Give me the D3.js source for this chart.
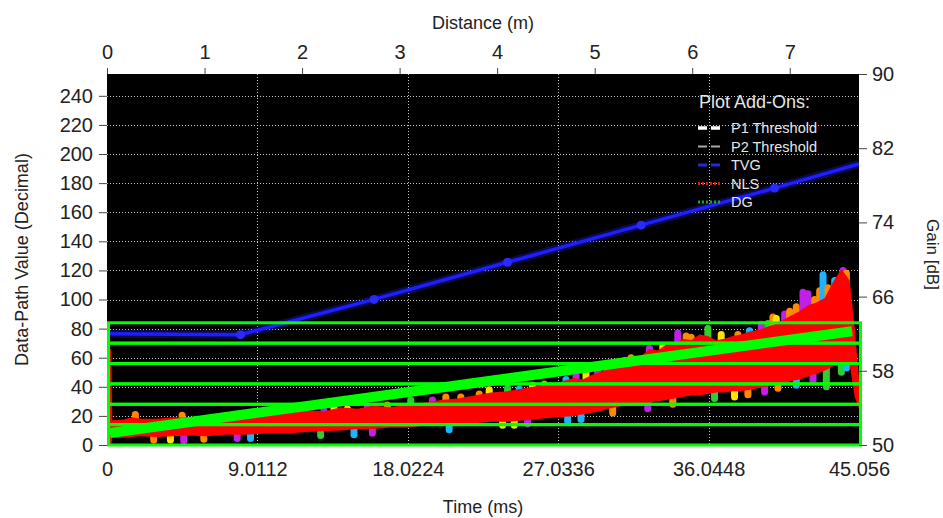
<!DOCTYPE html>
<html><head><meta charset="utf-8">
<script src="https://cdn.jsdelivr.net/npm/d3@7/dist/d3.min.js"></script>
<style>
body{margin:0;background:#fff;}
svg{display:block;font-family:"Liberation Sans",Arial,sans-serif;}
</style></head><body>
<svg id="chart" width="943" height="518"></svg>
<script>
// ---------- data ----------
const timeTicks = [0, 9.0112, 18.0224, 27.0336, 36.0448, 45.056];
const timeTickLabels = ["0", "9.0112", "18.0224", "27.0336", "36.0448", "45.056"];
const distanceTicks = [0, 1, 2, 3, 4, 5, 6, 7];
const valueTicks = [0, 20, 40, 60, 80, 100, 120, 140, 160, 180, 200, 220, 240];
const gainTicks = [50, 58, 66, 74, 82, 90];
const timeDomain = [0, 45.056];
const distanceDomain = [0, 7.71];
const valueDomain = [0, 255];
const gainDomain = [50, 90];

const legendTitle = "Plot Add-Ons:";
const legendLabels = ["P1 Threshold", "P2 Threshold", "TVG", "NLS", "DG"];

// TVG (gain, dB, right axis)
const tvgTime = [0, 8, 16, 24, 32, 40, 45.056];
const tvgGain = [62.0, 61.9, 65.7, 69.7, 73.7, 77.7, 80.3];
const tvgMarkerTime = [8, 16, 24, 32, 40];
const tvgMarkerGain = [61.9, 65.7, 69.7, 73.7, 77.7];

// DG (thick green line)
const dgTime = [0.18, 44.64];
const dgValue = [8.3, 78.2];

// threshold band edges (green rectangles)
const bandEdges = [0, 14, 28, 42, 56, 70, 84];

// NLS echo envelope (red)
const nlsTime = [0, 0.25, 0.32, 1, 1.5, 2,
  3, 4, 5, 6, 7, 8, 9, 10, 11, 12, 13, 14, 15, 16, 17, 18, 19, 20, 21, 22, 23,
  24, 25, 26, 27, 28, 28.5,
  29, 29.5, 30, 30.5, 31, 31.5, 32, 32.5, 33, 33.5, 34, 34.5, 35, 35.5, 36, 36.5,
  37, 37.5, 38, 38.5, 39, 39.5, 40, 40.5, 41, 41.5, 42, 42.5, 43, 43.5, 44, 44.5,
  44.8, 45.056];
const nlsHigh = [66, 66, 17, 17.5, 19, 18,
  18, 19, 18.5, 19.5, 20, 21, 20, 22, 23, 24, 23, 26, 25, 27, 26, 28, 29, 31, 32, 34, 36,
  37, 39, 41, 43, 46, 45,
  48, 50, 52, 55, 56, 59, 61, 66, 65, 69, 70, 73, 72, 76, 75, 72,
  73, 75, 76, 78, 79, 81, 83, 86, 89, 92, 96, 98, 101, 112, 121, 113,
  80, 45];
const nlsLow = [0, 0, 5, 5, 5.5, 6,
  5.5, 6, 6.5, 6, 7, 7, 7.5, 8, 8, 9, 9.5, 10, 11, 11, 12, 12, 13, 13, 14, 15, 16,
  16, 17, 18, 19, 20, 21,
  22, 23, 25, 26, 27, 27, 28, 29, 30, 31, 32, 33, 34, 34, 35, 36,
  36, 37, 37, 38, 39, 40, 41, 42, 44, 45, 47, 49, 51, 54, 56, 55,
  33, 25];

// colored echo traces peeking out of the red envelope
const echoColors = ["#ff8a00", "#ffe400", "#c020e8", "#1cb4ff", "#30cc30"];
// top-edge peaks
const peakTime  = [1.7, 4.5, 13.0, 13.6, 14.4, 15.6, 16.8, 18.2, 19.5, 20.3, 21.2, 22.3, 22.9,
  24.0, 24.7, 25.5, 26.2, 27.5, 28.1, 28.7, 29.4, 30.0, 31.0, 31.4, 32.5, 33.3, 34.2, 34.7,
  35.0, 36.0, 36.8, 37.8, 38.5, 39.2, 39.6, 39.9, 40.1, 40.6, 40.9, 41.3, 41.7, 42.0, 42.4,
  42.7, 42.9, 43.2, 43.6, 44.1, 44.3];
const peakValue = [21, 20.5, 23.5, 25.5, 25, 27, 27.5, 31, 31, 33, 33, 35, 38,
  39, 38.5, 41, 42, 45, 48.5, 50, 51, 53, 58, 60, 66.5, 68, 77, 75,
  74, 80, 76, 76, 78.5, 83, 83.5, 88, 87, 90, 92, 95, 105, 104, 100,
  106, 117, 108, 113, 120, 118];
const peakColor = [0, 0, 2, 1, 1, 2, 0, 4, 2, 0, 0, 0, 1,
  4, 3, 1, 0, 3, 2, 1, 2, 0, 3, 0, 2, 1, 2, 0,
  0, 4, 1, 0, 3, 2, 4, 0, 1, 2, 0, 0, 2, 2, 0,
  0, 3, 0, 3, 2, 0];
// bottom-edge valleys
const dipTime  = [2.8, 3.8, 4.6, 5.8, 7.8, 8.6, 12.8, 14.8, 15.9, 20.5, 23.7, 24.4, 25.2,
  27.6, 28.4, 30.3, 32.4, 33.9, 36.4, 37.6, 38.4, 39.4, 40.2, 41.3, 42.3, 43.1, 44.0, 44.3];
const dipValue = [3.5, 3.5, 3, 4, 4.5, 4.5, 6.5, 7, 8, 10.5, 13.5, 13.5, 14.5,
  16.5, 17.5, 22, 25, 28, 32, 33, 34.5, 36.5, 39, 41, 44, 40, 50, 53];
const dipColor = [0, 1, 2, 0, 2, 3, 4, 3, 2, 3, 1, 1, 2,
  3, 3, 0, 2, 0, 4, 1, 0, 2, 0, 3, 2, 4, 4, 3];

// ---------- layout ----------
const plot = {left: 107, right: 859, top: 74, bottom: 445};
const svg = d3.select("#chart");

const x = d3.scaleLinear().domain(timeDomain).range([plot.left, plot.right]);
const xd = d3.scaleLinear().domain(distanceDomain).range([plot.left, plot.right]);
const y = d3.scaleLinear().domain(valueDomain).range([plot.bottom, plot.top]);
const yg = d3.scaleLinear().domain(gainDomain).range([plot.bottom, plot.top]);

svg.append("defs").append("clipPath").attr("id", "clip")
  .append("rect").attr("x", plot.left).attr("y", plot.top)
  .attr("width", plot.right - plot.left).attr("height", plot.bottom - plot.top);

svg.append("rect").attr("x", plot.left).attr("y", plot.top)
  .attr("width", plot.right - plot.left).attr("height", plot.bottom - plot.top)
  .attr("fill", "#000");

// grid
const grid = svg.append("g").attr("stroke", "#c8c8c8").attr("stroke-width", 1)
  .attr("stroke-dasharray", "1,2");
grid.selectAll("line.h").data(valueTicks.filter(d => d > 0)).join("line")
  .attr("x1", plot.left).attr("x2", plot.right)
  .attr("y1", d => Math.round(y(d)) + 0.5).attr("y2", d => Math.round(y(d)) + 0.5);
grid.selectAll("line.v").data(timeTicks.slice(1, -1)).join("line")
  .attr("y1", plot.top).attr("y2", plot.bottom)
  .attr("x1", d => Math.round(x(d)) + 0.5).attr("x2", d => Math.round(x(d)) + 0.5);

const data = svg.append("g").attr("clip-path", "url(#clip)");

// interpolated midpoint of red envelope
function nlsMid(t) {
  let i = d3.bisectRight(nlsTime, t);
  i = Math.max(1, Math.min(nlsTime.length - 1, i));
  const t0 = nlsTime[i - 1], t1 = nlsTime[i];
  const f = (t - t0) / (t1 - t0);
  const hi = nlsHigh[i - 1] + f * (nlsHigh[i] - nlsHigh[i - 1]);
  const lo = nlsLow[i - 1] + f * (nlsLow[i] - nlsLow[i - 1]);
  return (hi + lo) / 2;
}

// colored echo traces (behind red)
data.selectAll("line.peak").data(peakTime).join("line")
  .attr("x1", d => x(d)).attr("x2", d => x(d))
  .attr("y1", (d, i) => y(peakValue[i])).attr("y2", d => y(nlsMid(d)))
  .attr("stroke", (d, i) => echoColors[peakColor[i]])
  .attr("stroke-width", 7).attr("stroke-linecap", "round");
data.selectAll("line.dip").data(dipTime).join("line")
  .attr("x1", d => x(d)).attr("x2", d => x(d))
  .attr("y1", (d, i) => y(dipValue[i])).attr("y2", d => y(nlsMid(d)))
  .attr("stroke", (d, i) => echoColors[dipColor[i]])
  .attr("stroke-width", 7).attr("stroke-linecap", "round");

// red NLS envelope
const area = d3.area()
  .x((d, i) => x(nlsTime[i]))
  .y0((d, i) => y(nlsLow[i]))
  .y1((d, i) => y(nlsHigh[i]));
data.append("path").datum(nlsTime).attr("d", area).attr("fill", "#ff0000");

// TVG line with glow
const tvgLine = d3.line().x((d, i) => x(tvgTime[i])).y((d, i) => yg(tvgGain[i]));
data.append("path").datum(tvgTime).attr("d", tvgLine).attr("fill", "none")
  .attr("stroke", "#2222ff").attr("stroke-opacity", 0.3).attr("stroke-width", 8);
data.append("path").datum(tvgTime).attr("d", tvgLine).attr("fill", "none")
  .attr("stroke", "#1e1eff").attr("stroke-width", 3.5);
data.selectAll("circle.tvg").data(tvgMarkerTime).join("circle")
  .attr("cx", d => x(d)).attr("cy", (d, i) => yg(tvgMarkerGain[i]))
  .attr("r", 4.5).attr("fill", "#2a2aff");

// green threshold bands
const bands = d3.pairs(bandEdges);
svg.append("g").selectAll("rect").data(bands).join("rect")
  .attr("x", x(timeDomain[0]) + 1.5)
  .attr("width", x(timeDomain[1]) - x(timeDomain[0]))
  .attr("y", d => y(d[1]))
  .attr("height", d => y(d[0]) - y(d[1]))
  .attr("fill", "none").attr("stroke", "#00ff00").attr("stroke-width", 3);

// DG thick line
const dgLine = d3.line().x((d, i) => x(dgTime[i])).y((d, i) => y(dgValue[i]));
svg.append("path").datum(dgTime).attr("d", dgLine).attr("fill", "none")
  .attr("stroke", "#00ff00").attr("stroke-width", 10).attr("stroke-linecap", "butt");

// ---------- axes ----------
const tickFont = 20, tickColor = "#222";
function styleAxis(g) {
  g.select(".domain").remove();
  g.selectAll(".tick line").attr("stroke", "#444");
  g.selectAll(".tick text").attr("fill", tickColor).attr("font-size", tickFont)
    .attr("font-family", '"Liberation Sans", Arial, sans-serif');
}
svg.append("g").attr("transform", `translate(0,${plot.bottom})`)
  .call(d3.axisBottom(x).tickValues(timeTicks).tickFormat((d, i) => timeTickLabels[i])
    .tickSize(0).tickPadding(17)).call(styleAxis);
svg.append("g").attr("transform", `translate(0,${plot.top})`)
  .call(d3.axisTop(xd).tickValues(distanceTicks).tickFormat(d3.format("d"))
    .tickSize(6).tickPadding(9)).call(styleAxis);
svg.append("g").attr("transform", `translate(${plot.left},0)`)
  .call(d3.axisLeft(y).tickValues(valueTicks).tickSize(8).tickPadding(6)).call(styleAxis);
svg.append("g").attr("transform", `translate(${plot.right},0)`)
  .call(d3.axisRight(yg).tickValues(gainTicks).tickSize(8).tickPadding(5)).call(styleAxis);

// axis titles
const titleFont = 18;
const midX = (plot.left + plot.right) / 2, midY = (plot.top + plot.bottom) / 2;
svg.append("text").attr("x", midX).attr("y", 29).attr("text-anchor", "middle")
  .attr("font-size", titleFont).attr("fill", tickColor).text("Distance (m)");
svg.append("text").attr("x", midX).attr("y", 513).attr("text-anchor", "middle")
  .attr("font-size", titleFont).attr("fill", tickColor).text("Time (ms)");
svg.append("text").attr("transform", `translate(22,${midY}) rotate(-90)`)
  .attr("text-anchor", "middle").attr("dy", "0.35em")
  .attr("font-size", titleFont).attr("fill", tickColor).text("Data-Path Value (Decimal)");
svg.append("text").attr("transform", `translate(933,${midY - 5}) rotate(90)`)
  .attr("text-anchor", "middle").attr("dy", "0.35em")
  .attr("font-size", 17).attr("fill", tickColor).text("Gain [dB]");

// ---------- legend ----------
const legendStyles = [
  {color: "#ffffff", width: 3.5, dash: "9,4"},
  {color: "#a8a8a8", width: 2, dash: "9,4"},
  {color: "#2828d8", width: 3, dash: "9,4"},
  {color: "#c82020", width: 3, dash: "2,2"},
  {color: "#28a028", width: 3, dash: "2,2"}
];
const lg = svg.append("g");
lg.append("text").attr("x", 699).attr("y", 108).attr("font-size", 18)
  .attr("fill", "#e6e6e6").text(legendTitle);
const rows = lg.selectAll("g.row").data(legendLabels).join("g")
  .attr("transform", (d, i) => `translate(0,${128 + i * 18.5})`);
rows.append("line").attr("x1", 698).attr("x2", 722).attr("y1", 0).attr("y2", 0)
  .attr("stroke", (d, i) => legendStyles[i].color)
  .attr("stroke-width", (d, i) => legendStyles[i].width)
  .attr("stroke-dasharray", (d, i) => legendStyles[i].dash);
rows.append("text").attr("x", 731).attr("y", 5).attr("font-size", 14.5)
  .attr("fill", "#e6e6e6").text(d => d);
</script>
</body></html>
